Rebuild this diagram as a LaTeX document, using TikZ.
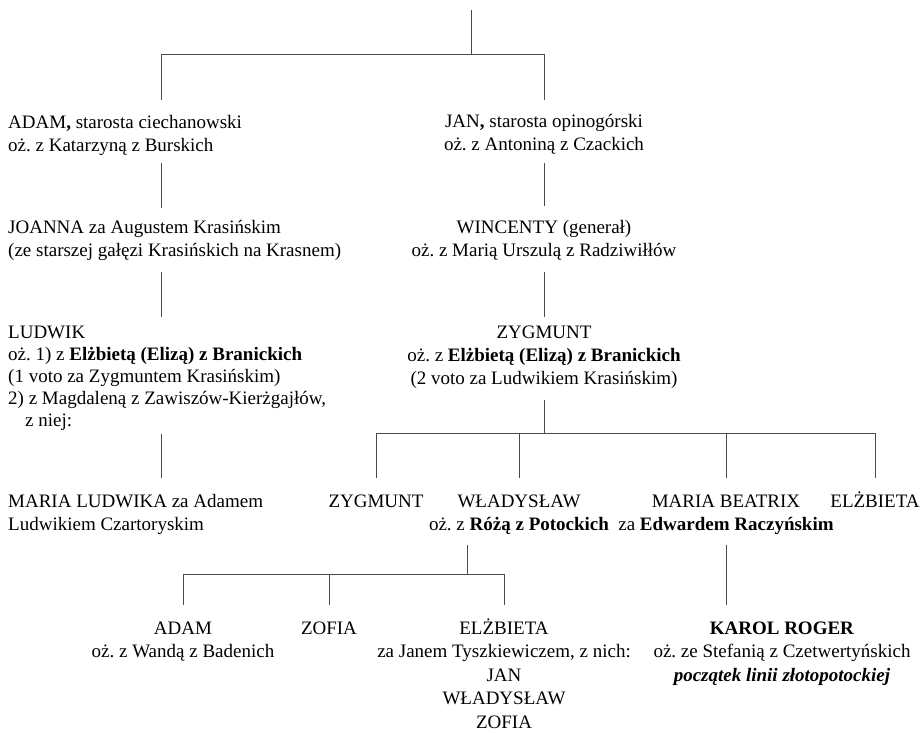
\documentclass[tikz,border=0pt]{standalone}
\usepackage{fontspec}
\setmainfont{Liberation Serif}
\frenchspacing
\usetikzlibrary{positioning}

\tikzset{
    person/.style={inner sep=0pt, align=center, font=\fontsize{19}{23}\selectfont,
        execute at end node=\strut}, % first line carries its own \strut
    lperson/.style={person, align=left, anchor=north west}, % left column, flush left
    cperson/.style={person, anchor=north}, % centred under its line
    link/.style={draw=black!70, line width=0.7pt},
}

\begin{document}
\begin{tikzpicture}[x=1pt, y=-1pt]
    \useasboundingbox (0,0) rectangle (924,732);

    % --- Nodes ---
    % Left branch
    \node[lperson] (adam) at (8,111.9) {\strut ADAM\textbf{,} starosta ciechanowski\\oż. z Katarzyną z Burskich};
    \node[below=105pt of adam.north west, lperson] (joanna) {\strut JOANNA za Augustem Krasińskim\\(ze starszej gałęzi Krasińskich na Krasnem)};
    \node[below=105.7pt of joanna.north west, lperson, font=\fontsize{19}{22}\selectfont] (ludwik)
        {\strut LUDWIK\\oż. 1) z \textbf{Elżbietą (Elizą) z Branickich}\\(1 voto za Zygmuntem Krasińskim)\\2) z Magdaleną z Zawiszów-Kierżgajłów,\\\hspace*{17pt}z niej:};
    \node[below=168.3pt of ludwik.north west, lperson] (marial) {\strut MARIA LUDWIKA za Adamem\\Ludwikiem Czartoryskim};

    % Right branch
    \node[cperson] (jan) at (544,110.9) {\strut JAN\textbf{,} starosta opinogórski\\oż. z Antoniną z Czackich};
    \node[below=106pt of jan.north, cperson] (wincenty) {\strut WINCENTY (generał)\\oż. z Marią Urszulą z Radziwiłłów};
    \node[below=105pt of wincenty.north, cperson] (zygmunt)
        {\strut ZYGMUNT\\oż. z \textbf{Elżbietą (Elizą) z Branickich}\\(2 voto za Ludwikiem Krasińskim)};

    % Children of Zygmunt
    \node[cperson] (zyg2) at (376,490.9) {\strut ZYGMUNT};
    \node[cperson] (wlad) at (519,490.9) {\strut WŁADYSŁAW\\oż. z \textbf{Różą z Potockich}};
    \node[cperson] (mbeat) at (726,490.9) {\strut MARIA BEATRIX\\za \textbf{Edwardem Raczyńskim}};
    \node[cperson] (elzb) at (875,490.9) {\strut ELŻBIETA};

    % Grandchildren
    \node[cperson, font=\fontsize{19}{23.5}\selectfont] (adam2) at (183,617.5) {\strut ADAM\\oż. z Wandą z Badenich};
    \node[cperson, font=\fontsize{19}{23.5}\selectfont] (zofia) at (329,617.5) {\strut ZOFIA};
    \node[cperson, font=\fontsize{19}{23.5}\selectfont] (elzb2) at (504,617.5)
        {\strut ELŻBIETA\\za Janem Tyszkiewiczem, z nich:\\JAN\\WŁADYSŁAW\\ZOFIA};
    \node[cperson, font=\fontsize{19}{23.5}\selectfont] (karol) at (782,617.5)
        {\strut\textbf{KAROL ROGER}\\oż. ze Stefanią z Czetwertyńskich\\\textbf{\textit{początek linii złotopotockiej}}};

    % --- Lines ---
    \coordinate (root) at (471,10);
    \coordinate (fork0) at (471,54);
    \coordinate (leftline) at (161,0);
    \draw[link] (root) -- (fork0);
    \draw[link, shorten <=12pt] (adam.north -| leftline) |- (fork0);
    \draw[link, shorten <=11pt] (jan.north) |- (fork0);

    % down the left branch
    \draw[link, shorten <=5pt, shorten >=9pt] (adam.south -| leftline) -- (joanna.north -| leftline);
    \draw[link, shorten <=9pt, shorten >=6pt] (joanna.south -| leftline) -- (ludwik.north -| leftline);
    \draw[link, shorten <=1pt, shorten >=13pt] (ludwik.south -| leftline) -- (marial.north -| leftline);

    % down the right branch
    \draw[link, shorten <=6pt, shorten >=11pt] (jan) -- (wincenty);
    \draw[link, shorten <=9pt, shorten >=5pt] (wincenty) -- (zygmunt);

    \coordinate (fork1) at (544,433);
    \draw[link, shorten <=9pt] (zygmunt) -- (fork1);
    \foreach \kid in {zyg2, wlad, mbeat, elzb}
        \draw[link, shorten >=13pt] (fork1) -| (\kid.north);

    \coordinate (fork2) at (467,574);
    \draw[link, shorten <=8pt] (wlad.south -| fork2) -- (fork2);
    \foreach \kid in {adam2, zofia, elzb2}
        \draw[link, shorten >=13pt] (fork2) -| (\kid.north);

    \draw[link, shorten <=8pt, shorten >=13pt] (mbeat) -- (mbeat |- karol.north);
\end{tikzpicture}
\end{document}
